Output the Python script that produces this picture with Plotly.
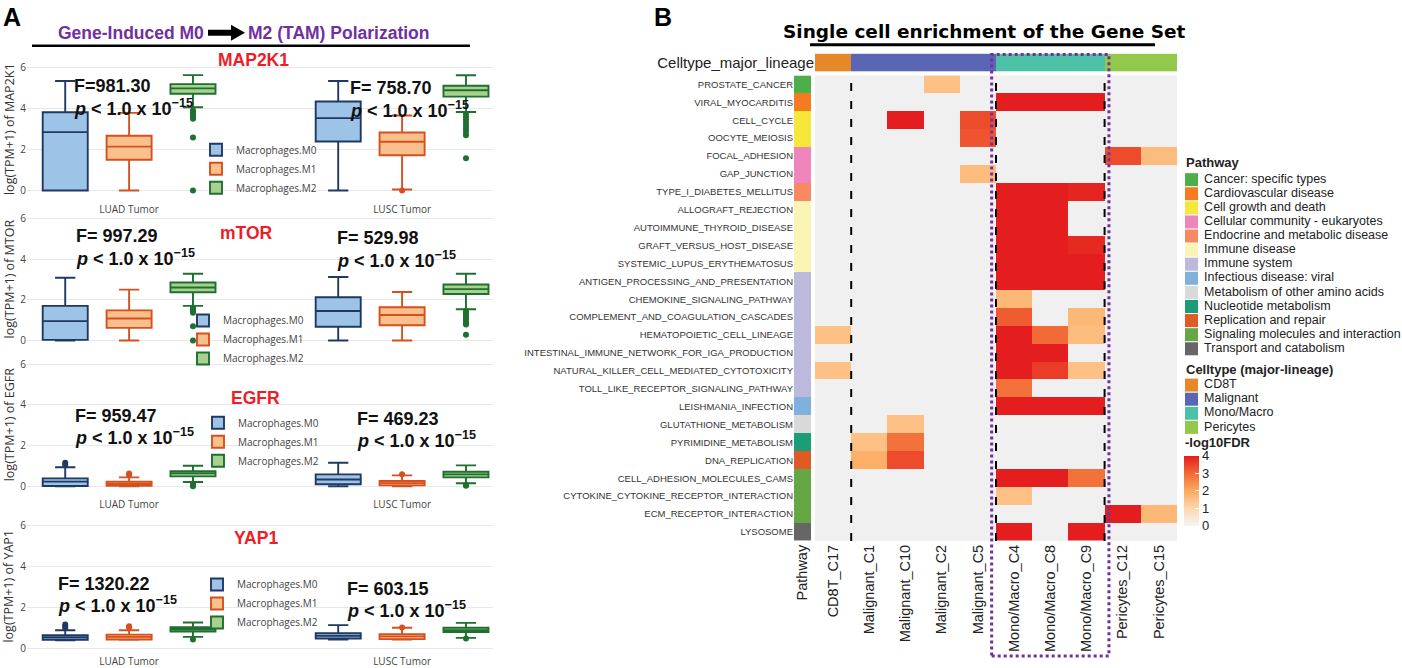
import plotly.graph_objects as go

W, H = 1402, 668


def X(px):
    return px / W


def Y(py):
    return 1 - py / H


# ---------------- Panel A data ----------------
groups = ["LUAD Tumor", "LUSC Tumor"]
macro_types = ["Macrophages.M0", "Macrophages.M1", "Macrophages.M2"]
genes = ["MAP2K1", "mTOR", "EGFR", "YAP1"]
gene_axis_names = ["MAP2K1", "MTOR", "EGFR", "YAP1"]
f_text = [["F=981.30", "F= 758.70"], ["F= 997.29", "F= 529.98"],
          ["F= 959.47", "F= 469.23"], ["F= 1320.22", "F= 603.15"]]

# indexed [gene][macrophage type][group]
upper_fence = [
    [[5.34, 5.34], [3.79, 3.66], [5.63, 5.62]],
    [[3.08, 3.12], [2.50, 2.38], [3.28, 3.28]],
    [[0.94, 1.16], [0.44, 0.54], [1.01, 1.03]],
    [[0.87, 1.12], [0.87, 0.99], [1.25, 1.23]],
]
q3 = [
    [[3.82, 4.34], [2.67, 2.83], [5.19, 5.11]],
    [[1.70, 2.12], [1.48, 1.63], [2.85, 2.75]],
    [[0.39, 0.59], [0.23, 0.26], [0.75, 0.72]],
    [[0.63, 0.73], [0.66, 0.68], [1.02, 0.99]],
]
median = [
    [[2.85, 3.53], [2.14, 2.38], [4.98, 4.89]],
    [[0.95, 1.45], [1.08, 1.25], [2.60, 2.52]],
    [[0.23, 0.34], [0.13, 0.16], [0.64, 0.59]],
    [[0.52, 0.60], [0.55, 0.57], [0.92, 0.87]],
]
q1 = [
    [[0.00, 2.39], [1.50, 1.72], [4.72, 4.58]],
    [[0.03, 0.67], [0.62, 0.75], [2.37, 2.28]],
    [[0.02, 0.10], [0.03, 0.05], [0.49, 0.44]],
    [[0.40, 0.47], [0.42, 0.44], [0.81, 0.78]],
]
lower_fence = [
    [[0.00, 0.00], [0.00, 0.05], [4.06, 3.83]],
    [[0.00, 0.00], [0.00, 0.00], [1.70, 1.53]],
    [[0.00, 0.00], [0.00, 0.00], [0.21, 0.15]],
    [[0.38, 0.42], [0.40, 0.42], [0.55, 0.50]],
]
outliers = [
    [[[], []], [[], [0.0]],
     [[3.9, 3.8, 3.7, 3.6, 3.5, 2.59, 0.0],
      [3.75, 3.6, 3.45, 3.3, 3.15, 3.0, 2.85, 2.7, 1.57]]],
    [[[], []], [[], []],
     [[1.62, 1.52, 1.44, 1.36, 0.7, 0.0],
      [1.45, 1.35, 1.25, 1.15, 1.05, 0.95, 0.85, 0.78, 0.28]]],
    [[[1.16, 1.05], []], [[0.63, 0.55], [0.6]], [[0.13, 0.06, 0.0], [0.07, 0.03]]],
    [[[1.15, 1.05, 0.98], []], [[1.07, 1.0], [1.0]], [[0.42], [0.47]]],
]

# ---------------- Panel B data ----------------
clusters = ["CD8T_C17", "Malignant_C1", "Malignant_C10", "Malignant_C2", "Malignant_C5",
            "Mono/Macro_C4", "Mono/Macro_C8", "Mono/Macro_C9", "Pericytes_C12", "Pericytes_C15"]
cluster_lineage = ["CD8T", "Malignant", "Malignant", "Malignant", "Malignant",
                   "Mono/Macro", "Mono/Macro", "Mono/Macro", "Pericytes", "Pericytes"]
lineages = ["CD8T", "Malignant", "Mono/Macro", "Pericytes"]
lineage_colors = ["#e6872a", "#5a66b4", "#4cc1a5", "#92c94b"]

pathways = [
    "PROSTATE_CANCER", "VIRAL_MYOCARDITIS", "CELL_CYCLE", "OOCYTE_MEIOSIS", "FOCAL_ADHESION",
    "GAP_JUNCTION", "TYPE_I_DIABETES_MELLITUS", "ALLOGRAFT_REJECTION",
    "AUTOIMMUNE_THYROID_DISEASE", "GRAFT_VERSUS_HOST_DISEASE", "SYSTEMIC_LUPUS_ERYTHEMATOSUS",
    "ANTIGEN_PROCESSING_AND_PRESENTATION", "CHEMOKINE_SIGNALING_PATHWAY",
    "COMPLEMENT_AND_COAGULATION_CASCADES", "HEMATOPOIETIC_CELL_LINEAGE",
    "INTESTINAL_IMMUNE_NETWORK_FOR_IGA_PRODUCTION", "NATURAL_KILLER_CELL_MEDIATED_CYTOTOXICITY",
    "TOLL_LIKE_RECEPTOR_SIGNALING_PATHWAY", "LEISHMANIA_INFECTION", "GLUTATHIONE_METABOLISM",
    "PYRIMIDINE_METABOLISM", "DNA_REPLICATION", "CELL_ADHESION_MOLECULES_CAMS",
    "CYTOKINE_CYTOKINE_RECEPTOR_INTERACTION", "ECM_RECEPTOR_INTERACTION", "LYSOSOME",
]
pathway_category = [
    "Cancer: specific types", "Cardiovascular disease", "Cell growth and death",
    "Cell growth and death", "Cellular community - eukaryotes", "Cellular community - eukaryotes",
    "Endocrine and metabolic disease", "Immune disease", "Immune disease", "Immune disease",
    "Immune disease", "Immune system", "Immune system", "Immune system", "Immune system",
    "Immune system", "Immune system", "Immune system", "Infectious disease: viral",
    "Metabolism of other amino acids", "Nucleotide metabolism", "Replication and repair",
    "Signaling molecules and interaction", "Signaling molecules and interaction",
    "Signaling molecules and interaction", "Transport and catabolism",
]
categories = [
    "Cancer: specific types", "Cardiovascular disease", "Cell growth and death",
    "Cellular community - eukaryotes", "Endocrine and metabolic disease", "Immune disease",
    "Immune system", "Infectious disease: viral", "Metabolism of other amino acids",
    "Nucleotide metabolism", "Replication and repair", "Signaling molecules and interaction",
    "Transport and catabolism",
]
category_colors = ["#4daf4a", "#f47b20", "#f5e83a", "#ee86bb", "#f78a63", "#fbf5b5", "#bdb9dd",
                   "#7fb1dc", "#d9d9d9", "#1b9e77", "#e05a26", "#65a744", "#666666"]

N = None
# -log10FDR; columns follow `clusters`
fdr = [
    [N, N, N, 1.5, N, N, N, N, N, N],
    [N, N, N, N, N, 4.0, 4.0, 4.0, N, N],
    [N, N, 4.0, N, 3.4, N, N, N, N, N],
    [N, N, N, N, 3.3, N, N, N, N, N],
    [N, N, N, N, N, N, N, N, 3.4, 1.6],
    [N, N, N, N, 1.6, N, N, N, N, N],
    [N, N, N, N, N, 4.0, 4.0, 3.9, N, N],
    [N, N, N, N, N, 4.0, 4.0, N, N, N],
    [N, N, N, N, N, 4.0, 4.0, N, N, N],
    [N, N, N, N, N, 4.0, 4.0, 3.85, N, N],
    [N, N, N, N, N, 4.0, 4.0, 4.0, N, N],
    [N, N, N, N, N, 4.0, 4.0, 4.0, N, N],
    [N, N, N, N, N, 1.7, N, N, N, N],
    [N, N, N, N, N, 3.2, N, 1.7, N, N],
    [1.5, N, N, N, N, 4.0, 3.0, 1.6, N, N],
    [N, N, N, N, N, 4.0, 4.0, N, N, N],
    [1.5, N, N, N, N, 4.0, 3.6, 1.5, N, N],
    [N, N, N, N, N, 2.9, N, N, N, N],
    [N, N, N, N, N, 4.0, 4.0, 4.0, N, N],
    [N, N, 1.5, N, N, N, N, N, N, N],
    [N, 1.5, 2.9, N, N, N, N, N, N, N],
    [N, 1.9, 3.4, N, N, N, N, N, N, N],
    [N, N, N, N, N, 4.0, 4.0, 2.9, N, N],
    [N, N, N, N, N, 1.5, N, N, N, N],
    [N, N, N, N, N, N, N, N, 4.0, 1.7],
    [N, N, N, N, N, 4.0, N, 4.0, N, N],
]
fdr_ticks = [0, 1, 2, 3, 4]

# ---------------- styles / layout geometry ----------------
FILL = ["#9dc3e6", "#f8c08d", "#a9d18e"]
LINE = ["#203864", "#d5501e", "#1f6f30"]
OFFS = [-0.234, 0.0, 0.234]
BOX_W = 0.165
p6 = [67, 219, 366, 528]
p0 = [191, 342, 489, 652]
title_xy = [(253, 59), (246, 234), (255, 400), (256, 541)]
f_pos = [[(72, 86), (348, 88)], [(74, 237), (335, 239)], [(73, 418), (355, 421)], [(56, 587), (345, 592)]]
leg_text_x = [236, 223, 238, 237]
leg_mid_y = [169, 341, 444, 607]
PURPLE = "#7030a0"
RED = "#ee1c24"
ARIAL = "Liberation Sans"


def ann(text, xpx, ypx, size, color, family, xanchor="left", yanchor="middle", **kw):
    return dict(text=text, x=X(xpx), y=Y(ypx), xref="paper", yref="paper",
                xanchor=xanchor, yanchor=yanchor, showarrow=False,
                font=dict(size=size, color=color, family=family), **kw)


fig = go.Figure()
annotations = []
shapes = []
layout_axes = {}

for g in range(4):
    xa, ya = f"x{g + 1}", f"y{g + 1}"
    leg = "legend" if g == 0 else f"legend{g + 1}"
    for t in range(3):
        fig.add_trace(go.Box(
            x=[i + OFFS[t] for i in range(len(groups))],
            q1=q1[g][t], median=median[g][t], q3=q3[g][t],
            lowerfence=lower_fence[g][t], upperfence=upper_fence[g][t],
            orientation="v", width=BOX_W, whiskerwidth=0.45,
            fillcolor=FILL[t], line=dict(color=LINE[t], width=1.9),
            boxpoints=False, name=macro_types[t], legend=leg,
            xaxis=xa, yaxis=ya, showlegend=True,
        ))
        ox, oy = [], []
        for i in range(len(groups)):
            for v in outliers[g][t][i]:
                ox.append(i + OFFS[t])
                oy.append(v)
        if oy:
            fig.add_trace(go.Scatter(
                x=ox, y=oy, mode="markers", marker=dict(color=LINE[t], size=6),
                showlegend=False, xaxis=xa, yaxis=ya, hoverinfo="y",
            ))
    u = (p0[g] - p6[g]) / 6.0
    top, bot = p6[g] - 0.3 * u, p0[g] + 0.3 * u
    layout_axes[f"xaxis{g + 1}"] = dict(
        domain=[X(27), X(493)], range=[-0.374, 1.333], anchor=ya,
        tickvals=list(range(len(groups))), ticktext=groups, showgrid=False,
        zeroline=False, showline=False, ticks="", showticklabels=(g != 1),
        ticklabelstandoff=(5 if g in (0, 2) else 0),
        tickfont=dict(size=10, color="#444", family="Open Sans"),
    )
    layout_axes[f"yaxis{g + 1}"] = dict(
        domain=[Y(bot), Y(top)], range=[-0.3, 6.3], anchor=xa,
        tickvals=[0, 2, 4, 6], gridcolor="#e8e8e8", gridwidth=1, zeroline=False,
        showline=False, ticks="", tickfont=dict(size=10, color="#444", family="Open Sans"),
    )
    layout_axes[leg] = dict(
        x=X(leg_text_x[g] - 40), xanchor="left", y=Y(leg_mid_y[g]), yanchor="middle",
        bgcolor="rgba(0,0,0,0)", font=dict(size=10, color="#444", family="Open Sans"),
        tracegroupgap=0,
    )
    annotations.append(ann(f"log(TPM+1) of {gene_axis_names[g]}", 9, (p6[g] + p0[g]) / 2,
                           12.5, "#333", "Open Sans", xanchor="center", textangle=-90))
    annotations.append(ann(f"<b>{genes[g]}</b>", title_xy[g][0], title_xy[g][1],
                           17.5, RED, ARIAL, xanchor="center"))
    for i in range(2):
        fx, fy = f_pos[g][i]
        annotations.append(ann(f"<b>{f_text[g][i]}</b>", fx, fy, 18, "#111", ARIAL))
        annotations.append(ann("<b><i>p</i> &lt; 1.0 x 10<sup>\u221215</sup></b>",
                               fx, fy + 21, 18, "#111", ARIAL))

# Panel A header
annotations += [
    ann("<b>A</b>", 1, 16, 25, "black", ARIAL),
    ann("<b>Gene-Induced M0</b>", 206, 32, 17.5, PURPLE, ARIAL, xanchor="right"),
    ann("<b>M2 (TAM) Polarization</b>", 246, 32, 17.5, PURPLE, ARIAL),
]
arrow_pts = [(208, 29), (231, 29), (231, 24), (245, 32), (231, 40), (231, 35), (208, 35)]
shapes.append(dict(
    type="path", xref="paper", yref="paper",
    path="M " + " L ".join(f"{X(a):.5f},{Y(b):.5f}" for a, b in arrow_pts) + " Z",
    fillcolor="black", line=dict(width=0),
))
shapes.append(dict(type="line", xref="paper", yref="paper", x0=X(32), x1=X(470),
                   y0=Y(45), y1=Y(45), line=dict(color="black", width=2.5)))

# ---------------- Panel B ----------------
colorscale = [[0, "#f5f5f5"], [0.25, "#fdd8ae"], [0.5, "#fcaa5e"], [0.75, "#f26b36"], [1, "#e41e1e"]]


def discrete_scale(colors):
    n = len(colors)
    sc = []
    for i, c in enumerate(colors):
        sc.append([i / n, c])
        sc.append([(i + 1) / n, c])
    return sc


fig.add_trace(go.Heatmap(
    x=clusters, y=pathways, z=fdr, zmin=0, zmax=4, colorscale=colorscale,
    xaxis="x5", yaxis="y5", hoverongaps=False, showscale=True,
    colorbar=dict(
        x=X(1184), xanchor="left", xpad=0, y=Y(458), yanchor="top", ypad=0,
        len=70, lenmode="pixels", thickness=15, thicknessmode="pixels", outlinewidth=0,
        tickvals=fdr_ticks, ticks="inside", ticklen=4, tickcolor="white",
        tickfont=dict(size=13, color="#222", family=ARIAL),
    ),
))
fig.add_trace(go.Heatmap(
    x=["Pathway"], y=pathways, z=[[categories.index(c)] for c in pathway_category],
    zmin=-0.5, zmax=len(categories) - 0.5, colorscale=discrete_scale(category_colors),
    showscale=False, xaxis="x6", yaxis="y6", hoverinfo="y",
))
fig.add_trace(go.Heatmap(
    x=clusters, y=["Celltype_major_lineage"], z=[[lineages.index(l) for l in cluster_lineage]],
    zmin=-0.5, zmax=len(lineages) - 0.5, colorscale=discrete_scale(lineage_colors),
    showscale=False, xaxis="x7", yaxis="y7", hoverinfo="x",
))
# legend keys
NB = "\u00a0"
fig.add_trace(go.Scatter(
    x=[6.5] * len(categories), y=categories, text=[NB + c for c in categories],
    mode="markers+text", textposition="middle right",
    marker=dict(symbol="square", size=13, color=category_colors),
    textfont=dict(size=12.5, color="#222", family=ARIAL), cliponaxis=False,
    showlegend=False, xaxis="x8", yaxis="y8", hoverinfo="skip",
))
fig.add_trace(go.Scatter(
    x=[6.5] * len(lineages), y=lineages, text=[NB + c for c in lineages],
    mode="markers+text", textposition="middle right",
    marker=dict(symbol="square", size=13, color=lineage_colors),
    textfont=dict(size=12.5, color="#222", family=ARIAL), cliponaxis=False,
    showlegend=False, xaxis="x9", yaxis="y9", hoverinfo="skip",
))

npw = len(pathways)
HM_TOP, HM_BOT = 75, 544
col_font = dict(size=14.5, color="#222", family=ARIAL)
layout_axes.update(
    xaxis5=dict(domain=[X(815), X(1177)], anchor="y5", type="category", tickangle=-90,
                ticks="", showgrid=False, zeroline=False, tickfont=col_font),
    yaxis5=dict(domain=[Y(HM_BOT), Y(HM_TOP)], anchor="x5", type="category",
                range=[npw - 0.5, -0.5], showticklabels=False, showgrid=False, zeroline=False),
    xaxis6=dict(domain=[X(794), X(811)], anchor="y6", type="category", tickangle=-90,
                ticks="", showgrid=False, zeroline=False, tickfont=col_font),
    yaxis6=dict(domain=[Y(HM_BOT), Y(HM_TOP)], anchor="x6", type="category",
                range=[npw - 0.5, -0.5], ticks="", showgrid=False, zeroline=False,
                tickfont=dict(size=9.5, color="#333", family=ARIAL)),
    xaxis7=dict(domain=[X(815), X(1177)], anchor="y7", type="category", showticklabels=False,
                ticks="", showgrid=False, zeroline=False),
    yaxis7=dict(domain=[Y(71), Y(53)], anchor="x7", type="category", ticks="", showgrid=False,
                zeroline=False, tickfont=dict(size=15, color="#222", family=ARIAL)),
    xaxis8=dict(domain=[X(1185), X(1400)], anchor="y8", range=[0, 215], visible=False),
    yaxis8=dict(domain=[Y(180 + 14.2 * 12.5), Y(180 - 14.2 * 0.5)], anchor="x8",
                type="category", range=[len(categories) - 0.5, -0.5], visible=False),
    xaxis9=dict(domain=[X(1185), X(1400)], anchor="y9", range=[0, 215], visible=False),
    yaxis9=dict(domain=[Y(387 + 14.2 * 3.5), Y(387 - 14.2 * 0.5)], anchor="x9",
                type="category", range=[len(lineages) - 0.5, -0.5], visible=False),
)

# heatmap background (cells without enrichment)
shapes.append(dict(type="rect", xref="x5 domain", yref="y5 domain", x0=0, x1=1, y0=0, y1=1,
                   fillcolor="#f0f0f1", line=dict(width=0), layer="below"))
# dashed lineage separators
for i in range(1, len(cluster_lineage)):
    if cluster_lineage[i] != cluster_lineage[i - 1]:
        shapes.append(dict(type="line", xref="x5", yref="y5 domain", x0=i - 0.5, x1=i - 0.5,
                           y0=0, y1=1, line=dict(color="black", width=2, dash="8px,10px")))
# purple dotted box around Mono/Macro clusters
mm = [i for i, l in enumerate(cluster_lineage) if l == "Mono/Macro"]
shapes.append(dict(type="rect", xref="x5", yref="paper", x0=mm[0] - 0.62, x1=mm[-1] + 0.62,
                   y0=Y(660), y1=Y(54), line=dict(color=PURPLE, width=3, dash="dot")))
# title underline
shapes.append(dict(type="line", xref="paper", yref="paper", x0=X(810), x1=X(1155),
                   y0=Y(44), y1=Y(44), line=dict(color="black", width=3)))

annotations += [
    ann("<b>B</b>", 652, 16, 25, "black", ARIAL),
    ann("<b>Single cell enrichment of the Gene Set</b>", 781, 31, 18.5, "black", "DejaVu Sans"),
    ann("<b>Pathway</b>", 1184, 163, 13, "#222", ARIAL),
    ann("<b>Celltype (major-lineage)</b>", 1184, 371, 13, "#222", ARIAL),
    ann("<b>-log10FDR</b>", 1183, 445, 13, "#222", ARIAL),
]

fig.update_layout(
    width=W, height=H, autosize=False, margin=dict(l=0, r=0, t=0, b=0, pad=0),
    paper_bgcolor="white", plot_bgcolor="white", showlegend=True,
    font=dict(family="Open Sans", color="#444"),
    annotations=annotations, shapes=shapes, **layout_axes,
)

fig.write_html("out.html", config={"displayModeBar": False},
               post_script="document.body.style.margin='0';")
